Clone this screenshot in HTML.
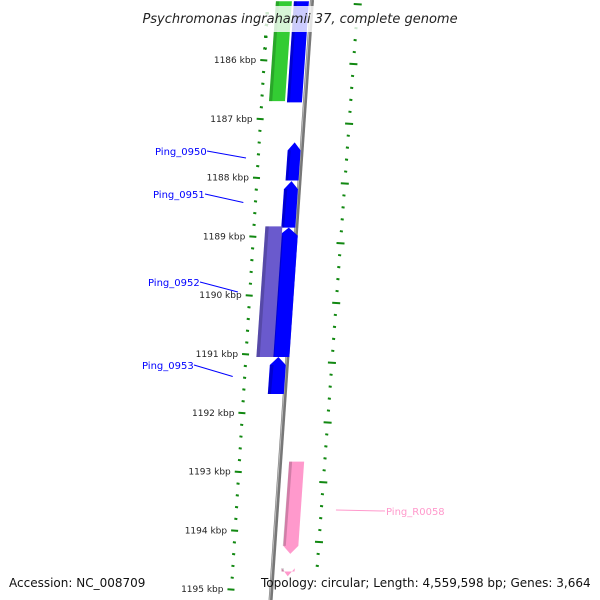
<!DOCTYPE html>
<html><head><meta charset="utf-8"><style>
body{margin:0;background:#fff}
svg{display:block;font-family:"DejaVu Sans","Liberation Sans",sans-serif}
</style></head><body>
<svg id="c" width="600" height="600" viewBox="0 0 600 600"></svg>
<script>
const kbpTicks=[1186,1187,1188,1189,1190,1191,1192,1193,1194,1195];
const geneNames=["green-gene","blue-gene-top","Ping_0950","Ping_0951","Ping_0952","Ping_0953","purple-gene","Ping_R0058","pink-gene-next"];
const geneStart=[1185.0,1185.0,1187.4,1188.06,1188.85,1191.05,1188.83,1192.83,1194.7];
const geneEnd=[1186.7,1186.72,1188.05,1188.85,1191.05,1191.68,1191.05,1194.4,1194.78];
const geneStrand=[1,1,1,1,1,1,1,-1,-1];
const geneArrow=[0,0,1,1,1,1,0,1,1];
const geneColor=["#33cc33","#0000ff","#0000ff","#0000ff","#0000ff","#0000ff","#6a5acd","#ff99cc","#ff99cc"];
const geneInner=[-36,-18,-14,-15,-17,-17,-31,9,9];
const geneOuter=[-20,-3,-1,-1,2,-1,-14,24,22];
const labelText=["Ping_0950","Ping_0951","Ping_0952","Ping_0953","Ping_R0058"];
const labelGene=[2,3,4,5,7];
const labelX=[155,153,148,142,386];
const labelY=[155,198,286,369,515];

const NS="http://www.w3.org/2000/svg";
const svg=document.getElementById('c');
function yOf(k){return 60+(k-1186)*58.8;}
function bb(y){return 312-0.069*y;}
function mk(t,a,p){const e=document.createElementNS(NS,t);for(const k in a)e.setAttribute(k,a[k]);(p||svg).appendChild(e);return e;}

// left tick column
for(let i=0;i<kbpTicks.length;i++){
  for(let m=0;m<5;m++){
    const k=kbpTicks[i]+m*0.2, y=yOf(k); if(y>600)continue;
    const cx=268-0.062*y;
    const t=mk('line',{x1:m?cx-1.5:cx-4,x2:m?cx+1.5:cx+3,y1:y,y2:y+0.5,stroke:'#118811','stroke-width':2});
    
    
  }
  for(let m=1;m<5;m++){const y=yOf(kbpTicks[0]-m*0.2);if(y<0)continue;const cx=268-0.062*y;
    const t=mk('line',{x1:cx-1.5,x2:cx+1.5,y1:y,y2:y+0.5,stroke:'#118811','stroke-width':2});
    }
  const y=yOf(kbpTicks[i]);
  const tx=mk('text',{x:268-0.062*y-8,y:y+3,'font-size':9,'text-anchor':'end',fill:'#222'});
  tx.textContent=kbpTicks[i]+' kbp';
  
  
}
// right tick column
for(let j=-1;j<60;j++){
  const y=4+j*11.95; if(y<0||y>575)continue;
  const cx=358-0.072*y, maj=(j%5===0);
  const t=mk('line',{x1:maj?cx-4:cx-1.5,x2:maj?cx+4:cx+1.5,y1:y,y2:y+0.5,stroke:'#118811','stroke-width':2});
  
  
}
// backbone
const b=mk('line',{x1:bb(0),y1:0,x2:bb(600),y2:600,stroke:'#777','stroke-width':4});

mk('line',{x1:bb(0)-1,y1:0,x2:bb(600)-1,y2:600,stroke:'#bbb','stroke-width':1});

// genes
for(let g=0;g<geneStart.length;g++){
  let y1=yOf(geneStart[g]),y2=yOf(geneEnd[g]);
  const i=geneInner[g],o=geneOuter[g];
  let pts;
  const ah=8;
  if(!geneArrow[g]){
    pts=[[bb(y1)+i,y1],[bb(y1)+o,y1],[bb(y2)+o,y2],[bb(y2)+i,y2]];
  }else if(geneStrand[g]>0){
    const ym=y1+ah,mid=(i+o)/2;
    pts=[[bb(y1)+mid,y1],[bb(ym)+o,ym],[bb(y2)+o,y2],[bb(y2)+i,y2],[bb(ym)+i,ym]];
  }else{
    const ym=y2-ah,mid=(i+o)/2;
    pts=[[bb(y1)+i,y1],[bb(y1)+o,y1],[bb(ym)+o,ym],[bb(y2)+mid,y2],[bb(ym)+i,ym]];
  }
  const p=mk('polygon',{points:pts.map(q=>q.join(',')).join(' '),fill:geneColor[g]});
  
  
  const w=(o-i)*0.2;
  const sh=mk('polygon',{points:[[bb(y1)+i,y1+(geneArrow[g]&&geneStrand[g]>0?ah:0)],[bb(y1)+i+w,y1+(geneArrow[g]&&geneStrand[g]>0?ah:0)],[bb(y2)+i+w,y2-(geneArrow[g]&&geneStrand[g]<0?ah:0)],[bb(y2)+i,y2-(geneArrow[g]&&geneStrand[g]<0?ah:0)]].map(q=>q.join(',')).join(' '),fill:'#000',opacity:0.18});
  
}
// labels
for(let l=0;l<labelText.length;l++){
  const g=labelGene[l],y=(yOf(geneStart[g])+yOf(geneEnd[g]))/2;
  const col=geneColor[g];
  const right=geneStrand[g]<0;
  const lx=right?labelX[l]-1:labelX[l]+52;
  const gx=right?bb(y)+geneOuter[g]+35:268-0.062*y-12;
  const gy=right?labelY[l]-5:labelY[l]+3+(l*1.5);
  const ln=mk('line',{x1:lx,y1:labelY[l]-4,x2:gx,y2:gy,stroke:col,'stroke-width':1});
  
  const t=mk('text',{x:labelX[l],y:labelY[l],'font-size':10,fill:col});
  t.textContent=labelText[l];
  
  
}
// title
const tb=mk('rect',{x:130,y:6,width:340,height:26,fill:'#fff',opacity:0.8});

const tt=mk('text',{x:300,y:23,'font-size':13,'font-style':'italic','text-anchor':'middle',fill:'#222'});
tt.textContent='Psychromonas ingrahamii 37, complete genome';

const a1=mk('text',{x:9,y:587,'font-size':12,fill:'#111'});
a1.textContent='Accession: NC_008709';

const a2=mk('text',{x:261,y:587,'font-size':12,fill:'#111'});
a2.textContent='Topology: circular; Length: 4,559,598 bp; Genes: 3,664';

</script>
</body></html>
